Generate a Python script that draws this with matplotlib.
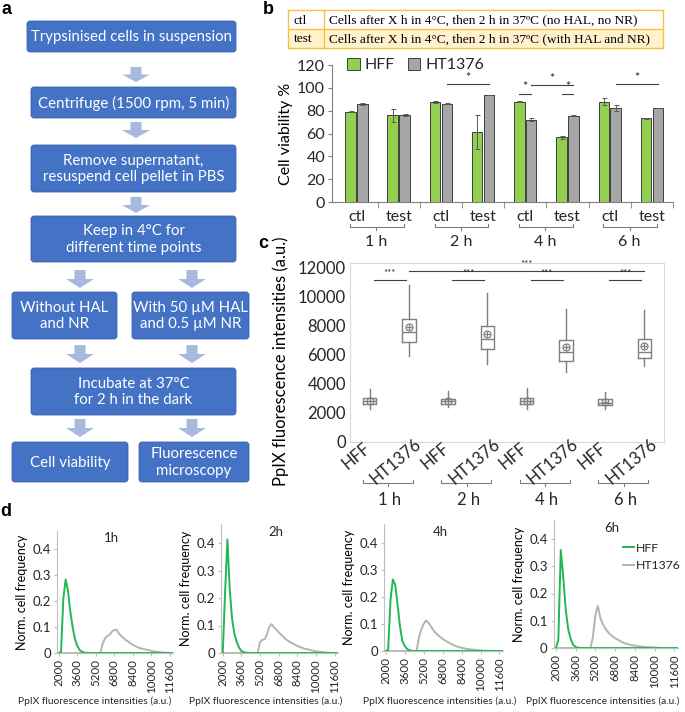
import matplotlib
matplotlib.use('Agg')
import matplotlib.pyplot as plt
from matplotlib.patches import FancyBboxPatch, Polygon, Rectangle
from matplotlib.transforms import blended_transform_factory
import numpy as np

plt.rcParams['font.family'] = ['Lato', 'DejaVu Sans']
plt.rcParams['text.color'] = '#262626'
plt.rcParams['xtick.color'] = '#262626'
plt.rcParams['ytick.color'] = '#262626'

# ---------------- data ----------------
# panel b: cell viability (%)
TIME_GROUPS = ['1 h', '2 h', '4 h', '6 h']
CONDITIONS = ['ctl', 'test', 'ctl', 'test', 'ctl', 'test', 'ctl', 'test']
HFF_VIAB = [79, 76, 87.3, 61, 88, 56.5, 88, 73.2]
HFF_ERR = [0.3, 5.6, 1.0, 15, 0.3, 1.5, 2.8, 0.8]
HT_VIAB = [85.5, 76, 86.2, 94, 72.2, 75.7, 82, 82]
HT_ERR = [0.8, 1.0, 0.6, 0.0, 1.0, 0.4, 2.6, 0.0]
# significance bars: (x start, x end, y)
SIG_B = [(2.14, 3.14, 103), (3.86, 4.14, 95), (4.14, 5.14, 102.5), (4.86, 5.14, 95), (6.14, 7.14, 103)]

# panel c: PpIX fluorescence box plots
BOX_LABELS = ['HFF', 'HT1376', 'HFF', 'HT1376', 'HFF', 'HT1376', 'HFF', 'HT1376']
BOX_WHISLO = [2270, 5890, 2430, 5390, 2270, 4780, 2270, 5210]
BOX_Q1 = [2590, 6900, 2590, 6420, 2590, 5600, 2530, 5760]
BOX_MED = [2800, 7530, 2800, 7060, 2830, 6170, 2710, 6210]
BOX_Q3 = [3030, 8470, 2980, 7940, 3030, 7030, 2940, 7100]
BOX_WHISHI = [3640, 10770, 3480, 10240, 3730, 9150, 3410, 9040]
BOX_MEAN = [2830, 7900, 2850, 7400, 2850, 6530, 2750, 6620]
SIG_C_SHORT_Y = 11130
SIG_C_LONG = (1.0, 7.0, 11770)

# panel d: normalised histograms
INTENSITY_BINS = np.arange(2000, 12000, 200)
HFF_1H = [0, 0.005, 0.21, 0.283, 0.24, 0.16, 0.10, 0.055, 0.028, 0.012, 0.005, 0.002,
          0, 0, 0, 0, 0, 0, 0, 0, 0, 0, 0, 0, 0, 0, 0, 0, 0, 0, 0, 0, 0, 0, 0, 0, 0, 0,
          0, 0, 0, 0, 0, 0, 0, 0, 0, 0, 0, 0]
HT_1H = [0, 0, 0, 0, 0, 0, 0, 0, 0, 0, 0, 0, 0, 0, 0, 0, 0, 0,
         0.0, 0.035, 0.055, 0.065, 0.07, 0.082, 0.088, 0.09, 0.076, 0.066, 0.058, 0.05,
         0.045, 0.038, 0.032, 0.027, 0.023, 0.019, 0.017, 0.015, 0.013, 0.011, 0.009,
         0.006, 0.005, 0.004, 0.003, 0.002, 0.001, 0.001, 0, 0]
HFF_2H = [0, 0.22, 0.413, 0.23, 0.125, 0.07, 0.04, 0.02, 0.007, 0.003, 0.001,
          0, 0, 0, 0, 0, 0, 0, 0, 0, 0, 0, 0, 0, 0, 0, 0, 0, 0, 0, 0, 0, 0, 0, 0, 0, 0, 0,
          0, 0, 0, 0, 0, 0, 0, 0, 0, 0, 0, 0]
HT_2H = [0, 0, 0, 0, 0, 0, 0, 0, 0, 0, 0, 0, 0, 0, 0,
         0.0, 0.04, 0.048, 0.05, 0.068, 0.095, 0.105, 0.093, 0.085, 0.076, 0.067, 0.059,
         0.05, 0.045, 0.039, 0.035, 0.03, 0.026, 0.022, 0.019, 0.016, 0.014, 0.012, 0.01,
         0.008, 0.006, 0.005, 0.004, 0.003, 0.002, 0.001, 0.001, 0, 0, 0]
HFF_4H = [0, 0.005, 0.19, 0.265, 0.245, 0.17, 0.09, 0.038, 0.018, 0.008, 0.003, 0.001,
          0, 0, 0, 0, 0, 0, 0, 0, 0, 0, 0, 0, 0, 0, 0, 0, 0, 0, 0, 0, 0, 0, 0, 0, 0, 0,
          0, 0, 0, 0, 0, 0, 0, 0, 0, 0, 0, 0]
HT_4H = [0, 0, 0, 0, 0, 0, 0, 0, 0, 0, 0, 0, 0,
         0.0, 0.05, 0.08, 0.1, 0.113, 0.105, 0.092, 0.078, 0.068, 0.059, 0.052, 0.045,
         0.039, 0.034, 0.029, 0.024, 0.02, 0.017, 0.014, 0.012, 0.01, 0.008, 0.007, 0.006,
         0.005, 0.004, 0.003, 0.002, 0.002, 0.001, 0.001, 0, 0, 0, 0, 0, 0]
HFF_6H = [0, 0.03, 0.36, 0.26, 0.14, 0.07, 0.033, 0.012, 0.004, 0.001,
          0, 0, 0, 0, 0, 0, 0, 0, 0, 0, 0, 0, 0, 0, 0, 0, 0, 0, 0, 0, 0, 0, 0, 0, 0, 0, 0, 0,
          0, 0, 0, 0, 0, 0, 0, 0, 0, 0, 0, 0]
HT_6H = [0, 0, 0, 0, 0, 0, 0, 0, 0, 0, 0, 0, 0, 0,
         0.0, 0.04, 0.12, 0.155, 0.112, 0.088, 0.072, 0.06, 0.05, 0.043, 0.036, 0.031,
         0.026, 0.021, 0.017, 0.015, 0.012, 0.01, 0.009, 0.007, 0.006, 0.005, 0.004,
         0.003, 0.003, 0.002, 0.002, 0.001, 0.001, 0, 0, 0, 0, 0, 0, 0]
HIST_TITLES = ['1h', '2h', '4h', '6h']
HIST_HFF = [HFF_1H, HFF_2H, HFF_4H, HFF_6H]
HIST_HT = [HT_1H, HT_2H, HT_4H, HT_6H]
HIST_XTICKS = [2000, 3600, 5200, 6800, 8400, 10000, 11600]

# ---------------- colours ----------------
GREEN_BAR = '#92D050'
GRAY_BAR = '#A6A6A6'
BOX_BLUE = '#4472C4'
ARROW_COL = '#A9B8DE'
LINE_GREEN = '#1DB954'
LINE_GRAY = '#B4B4B4'

W, H = 685, 712
fig = plt.figure(figsize=(W / 100, H / 100), dpi=100)


def add_ax(l, t, r, b):
    return fig.add_axes([l / W, 1 - b / H, (r - l) / W, (b - t) / H])


canvas = fig.add_axes([0, 0, 1, 1])
canvas.set_xlim(0, W)
canvas.set_ylim(H, 0)
canvas.axis('off')
canvas.set_zorder(-5)

# ---------------- panel a: flowchart ----------------
boxes = [
    (27, 21, 236, 52, 'Trypsinised cells in suspension'),
    (31, 87, 236, 118, 'Centrifuge (1500 rpm, 5 min)'),
    (31, 145, 236, 192, 'Remove supernatant,\nresuspend cell pellet in PBS'),
    (31, 216, 236, 262, 'Keep in 4°C for\ndifferent time points'),
    (12, 292, 117, 339, 'Without HAL\nand NR'),
    (132, 292, 249, 339, 'With 50 µM HAL\nand 0.5 µM NR'),
    (31, 368, 236, 415, 'Incubate at 37°C\nfor 2 h in the dark'),
    (12, 442, 128, 482, 'Cell viability'),
    (139, 442, 249, 482, 'Fluorescence\nmicroscopy'),
]
for l, t, r, b, txt in boxes:
    canvas.add_patch(FancyBboxPatch((l, t), r - l, b - t,
                                    boxstyle='round,pad=0,rounding_size=3',
                                    fc=BOX_BLUE, ec='#3A63AE', lw=0.6))
    canvas.text((l + r) / 2, (t + b) / 2 + 0.5, txt, color='white', ha='center',
                va='center', fontsize=10.8, linespacing=1.25)

arrows = [(136, 67, 82), (136, 122, 138), (136, 197, 213),
          (80, 270, 288), (192, 270, 288), (80, 345, 363), (192, 345, 363),
          (80, 419, 437), (192, 419, 437)]
for cx, top, bot in arrows:
    hh = (bot - top) * 0.5
    sw, hw = 5.5, 14
    pts = [(cx - sw, top), (cx + sw, top), (cx + sw, bot - hh), (cx + hw, bot - hh),
           (cx, bot), (cx - hw, bot - hh), (cx - sw, bot - hh)]
    canvas.add_patch(Polygon(pts, closed=True, fc=ARROW_COL, ec='none'))

for lab, x, y in [('a', 7, 9), ('b', 268, 9), ('c', 263, 243), ('d', 6, 512)]:
    canvas.text(x, y, lab, fontsize=13, fontweight='bold', family='Liberation Sans',
                ha='center', va='center', color='black')

# ---------------- panel b: table ----------------
TABLE_ROWS = [('ctl', 'Cells after X h in 4°C, then 2 h in 37ºC (no HAL, no NR)'),
              ('test', 'Cells after X h in 4°C, then 2 h in 37ºC (with HAL and NR)')]
tl, tr, tt, tm, tb, tc = 288, 663, 10, 29, 48, 324
canvas.add_patch(Rectangle((tl, tm), tr - tl, tb - tm, fc='#FFF2CC', ec='none'))
for yy in (tt, tm, tb):
    canvas.plot([tl, tr], [yy, yy], color='#F5C242', lw=1)
for xx in (tl, tc, tr):
    canvas.plot([xx, xx], [tt, tb], color='#F5C242', lw=1)
for i, (k, v) in enumerate(TABLE_ROWS):
    yc = (tt + tm) / 2 + i * (tm - tt) + 1
    canvas.text(tl + 6, yc, k, family='Liberation Serif', fontsize=9.6, va='center', color='black')
    canvas.text(tc + 5, yc, v, family='Liberation Serif', fontsize=9.6, va='center', color='black')

# ---------------- panel b: bars ----------------
FS_B = 11.5
axb = add_ax(332, 65, 673, 202)
x = np.arange(len(CONDITIONS))
bw, off = 0.25, 0.14
axb.bar(x - off, HFF_VIAB, bw, color=GREEN_BAR, edgecolor='#3F3F3F', lw=0.7, label='HFF', zorder=2)
axb.bar(x + off, HT_VIAB, bw, color=GRAY_BAR, edgecolor='#3F3F3F', lw=0.7, label='HT1376', zorder=2)
axb.errorbar(x - off, HFF_VIAB, yerr=HFF_ERR, fmt='none', ecolor='#595959', elinewidth=0.7, capsize=1.8, capthick=0.7, zorder=3)
axb.errorbar(x + off, HT_VIAB, yerr=HT_ERR, fmt='none', ecolor='#595959', elinewidth=0.7, capsize=1.8, capthick=0.7, zorder=3)
axb.set_xlim(-0.58, 7.5)
axb.set_ylim(0, 120)
axb.set_yticks(range(0, 121, 20))
axb.set_xticks(x)
axb.set_xticklabels(CONDITIONS, fontsize=FS_B)
axb.set_xticks(np.arange(0.5, 8, 1), minor=True)
axb.tick_params(axis='x', which='major', length=0, pad=6)
axb.tick_params(axis='x', which='minor', length=4, color='#7F7F7F')
axb.tick_params(axis='y', length=3, color='#7F7F7F', labelsize=FS_B, pad=2)
for s in ('top', 'right'):
    axb.spines[s].set_visible(False)
for s in ('left', 'bottom'):
    axb.spines[s].set_color('#7F7F7F')
axb.patch.set_alpha(0)
axb.set_ylabel('Cell viability %', fontsize=FS_B, labelpad=3)
for x1, x2, yy in SIG_B:
    axb.plot([x1, x2], [yy, yy], color='#404040', lw=0.8, clip_on=False)
    axb.text((x1 + x2) / 2, yy + 0.3, '*', ha='center', va='bottom', fontsize=9, color='#262626')
leg = axb.legend(ncol=2, loc='upper left', bbox_to_anchor=(0.025, 1.1), frameon=False,
                 handlelength=0.8, handleheight=0.8, columnspacing=0.8, handletextpad=0.3,
                 fontsize=FS_B, borderaxespad=0)
trb = blended_transform_factory(axb.transData, axb.transAxes)
for g, lab in enumerate(TIME_GROUPS):
    x1, x2, xm = 2 * g - 0.15, 2 * g + 1.12, 2 * g + 0.47
    axb.plot([x1, x1, x2, x2], [-0.16, -0.18, -0.18, -0.16], color='#7F7F7F', lw=0.8, transform=trb, clip_on=False)
    axb.plot([xm, xm], [-0.18, -0.205], color='#7F7F7F', lw=0.8, transform=trb, clip_on=False)
    axb.text(xm, -0.29, lab, transform=trb, ha='center', va='center', fontsize=FS_B)

# ---------------- panel c: boxplots ----------------
FS_C = 12
axc = add_ax(350, 263, 664, 442)
stats = []
for i in range(len(BOX_LABELS)):
    stats.append(dict(whislo=BOX_WHISLO[i], q1=BOX_Q1[i], med=BOX_MED[i], q3=BOX_Q3[i],
                      whishi=BOX_WHISHI[i], mean=BOX_MEAN[i], fliers=[]))
pos = np.arange(len(BOX_LABELS))
bc = '#7F7F7F'
axc.bxp(stats, positions=pos, widths=0.35, showcaps=False, showmeans=True, showfliers=False,
        boxprops=dict(color=bc, lw=1), whiskerprops=dict(color=bc, lw=1),
        medianprops=dict(color=bc, lw=1),
        meanprops=dict(marker='o', markerfacecolor='none', markeredgecolor=bc, markersize=5, mew=0.9))
axc.plot(pos, BOX_MEAN, linestyle='none', marker='+', color=bc, markersize=5, mew=0.9)
axc.set_xlim(-0.5, 7.5)
axc.set_ylim(0, 12300)
axc.set_yticks(range(0, 12001, 2000))
axc.tick_params(axis='y', length=0, labelsize=FS_C, pad=3)
axc.set_xticks([])
for s in axc.spines.values():
    s.set_color('#D9D9D9')
axc.set_ylabel('PpIX fluorescence intensities (a.u.)', fontsize=FS_C, labelpad=4)
axc.yaxis.set_label_coords(-0.195, 0.45)
trc = blended_transform_factory(axc.transData, axc.transAxes)
for i, lab in enumerate(BOX_LABELS):
    dy = -0.08 if lab == 'HFF' else -0.11
    axc.text(i - 0.33, dy, lab, transform=trc, rotation=40, ha='center', va='center',
             rotation_mode='anchor', fontsize=FS_C)
for g, lab in enumerate(TIME_GROUPS):
    x1, x2, xm = 2 * g - 0.17, 2 * g + 1.1, 2 * g + 0.47
    axc.plot([x1, x1, x2, x2], [-0.215, -0.229, -0.229, -0.215], color='#7F7F7F', lw=0.8, transform=trc, clip_on=False)
    axc.plot([xm, xm], [-0.229, -0.247], color='#7F7F7F', lw=0.8, transform=trc, clip_on=False)
    axc.text(2 * g + 0.52, -0.325, lab, transform=trc, ha='center', va='center', fontsize=FS_C)
    axc.plot([2 * g + 0.1, 2 * g + 0.92], [SIG_C_SHORT_Y] * 2, color='#404040', lw=0.8)
    axc.text(2 * g + 0.51, SIG_C_SHORT_Y + 120, '***', ha='center', va='bottom', fontsize=7)
axc.plot([SIG_C_LONG[0], SIG_C_LONG[1]], [SIG_C_LONG[2]] * 2, color='#404040', lw=0.8)
axc.text((SIG_C_LONG[0] + SIG_C_LONG[1]) / 2, SIG_C_LONG[2] + 120, '***', ha='center', va='bottom', fontsize=7)

# ---------------- panel d: histograms ----------------
# (left px, right px, bottom px, px per 0.1, x-label centre px)
d_pos = [(57, 173, 653, 26.0, 95), (221, 338, 653, 27.5, 266),
         (384, 503, 651, 27.0, 440), (554, 678, 648, 27.25, 603)]
YMAX = 0.47
XLABEL_Y = 701
for k, (l, r, b, per, xlc) in enumerate(d_pos):
    top = b - YMAX / 0.1 * per
    ax = add_ax(l, top, r, b)
    ax.plot(INTENSITY_BINS, HIST_HT[k], color=LINE_GRAY, lw=1.4, label='HT1376')
    ax.plot(INTENSITY_BINS, HIST_HFF[k], color=LINE_GREEN, lw=1.4, label='HFF')
    ax.set_xlim(1850, 11900)
    ax.set_ylim(0, YMAX)
    ax.set_yticks([0, 0.1, 0.2, 0.3, 0.4])
    ax.set_yticklabels(['0', '0.1', '0.2', '0.3', '0.4'])
    ax.set_xticks(HIST_XTICKS)
    ax.set_xticklabels([str(v) for v in HIST_XTICKS], rotation=90, fontsize=8.3)
    ax.tick_params(axis='both', length=2.5, color='#BFBFBF', pad=2)
    ax.tick_params(axis='y', labelsize=9.5)
    for s in ('top', 'right'):
        ax.spines[s].set_visible(False)
    for s in ('left', 'bottom'):
        ax.spines[s].set_color('#BFBFBF')
    ax.patch.set_alpha(0)
    ax.set_ylabel('Norm. cell frequency', fontsize=9, labelpad=3)
    hpx = b - top
    ax.text((xlc - l) / (r - l), (b - XLABEL_Y) / hpx, 'PpIX fluorescence intensities (a.u.)',
            transform=ax.transAxes, ha='center', va='center', fontsize=7.4)
    ax.text(0.47, 0.94, HIST_TITLES[k], transform=ax.transAxes, ha='center', va='center', fontsize=9.5)
    if k == 3:
        hs, ls = ax.get_legend_handles_labels()
        ax.legend(hs[::-1], ls[::-1], loc='upper left', bbox_to_anchor=(0.52, 0.86), frameon=False,
                  handlelength=0.9, handletextpad=0.15, fontsize=8.8, labelspacing=0.55, borderaxespad=0)

fig.savefig('out.png', dpi=100)
